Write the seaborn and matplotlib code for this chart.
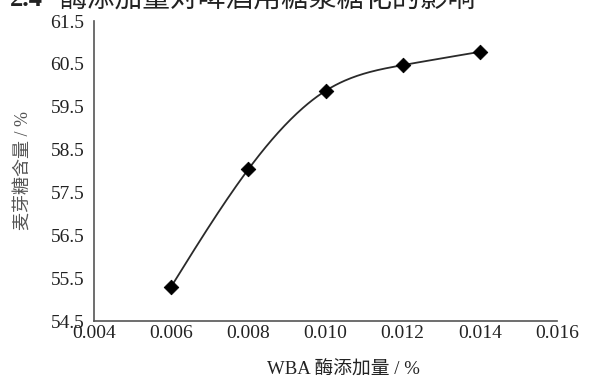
import numpy as np
import pandas as pd
import matplotlib
matplotlib.use("Agg")
import matplotlib.pyplot as plt
import seaborn as sns

# data
dose = [0.006, 0.008, 0.010, 0.012, 0.014]
maltose = [55.30, 58.04, 59.87, 60.47, 60.78]
xticks = [0.004, 0.006, 0.008, 0.010, 0.012, 0.014, 0.016]
yticks = [54.5, 55.5, 56.5, 57.5, 58.5, 59.5, 60.5, 61.5]
xlabel = "WBA 酶添加量 / %"
ylabel = "麦芽糖含量 / %"
caption_num = "2.4"
caption = "酶添加量对啤酒用糖浆糖化的影响"

sns.set_theme(style="white")
plt.rcParams['font.family'] = ['Liberation Serif', 'Noto Sans CJK SC', 'DejaVu Sans']
plt.rcParams['mathtext.fontset'] = 'stix'

df = pd.DataFrame({"dose": dose, "maltose": maltose})


def natural_spline(x, y, n=200):
    x = np.asarray(x, float); y = np.asarray(y, float)
    k = len(x); h = np.diff(x)
    A = np.zeros((k, k)); b = np.zeros(k)
    A[0, 0] = A[-1, -1] = 1
    for i in range(1, k - 1):
        A[i, i - 1] = h[i - 1]; A[i, i] = 2 * (h[i - 1] + h[i]); A[i, i + 1] = h[i]
        b[i] = 3 * ((y[i + 1] - y[i]) / h[i] - (y[i] - y[i - 1]) / h[i - 1])
    c = np.linalg.solve(A, b)
    xs = np.linspace(x[0], x[-1], n); ys = np.empty_like(xs)
    for j, xv in enumerate(xs):
        i = min(np.searchsorted(x, xv, side='right') - 1, k - 2)
        dx = xv - x[i]
        bb = (y[i + 1] - y[i]) / h[i] - h[i] * (c[i + 1] + 2 * c[i]) / 3
        d = (c[i + 1] - c[i]) / (3 * h[i])
        ys[j] = y[i] + bb * dx + c[i] * dx ** 2 + d * dx ** 3
    return xs, ys


W, H = 598, 381
AX_L, AX_R, AX_T, AX_B = 94, 557, 21, 321
fig = plt.figure(figsize=(W / 100, H / 100), dpi=100)
ax = fig.add_axes([AX_L / W, 1 - AX_B / H, (AX_R - AX_L) / W, (AX_B - AX_T) / H])

xs, ys = natural_spline(dose, maltose)
sns.lineplot(x=xs, y=ys, ax=ax, color="#2a2a2a", linewidth=1.3)
sns.scatterplot(data=df, x="dose", y="maltose", ax=ax, marker="D", s=55,
                color="black", edgecolor="black", zorder=5)

ax.set_xlim(0.004, 0.016)
ax.set_ylim(54.5, 61.5)
ax.set_xticks(xticks)
ax.set_xticklabels([f"{v:.3f}" for v in xticks])
ax.set_yticks(yticks)
ax.set_yticklabels([f"{v:.1f}" for v in yticks])

for s in ["top", "right"]:
    ax.spines[s].set_visible(False)
for s in ["left", "bottom"]:
    ax.spines[s].set_color("#555555")
    ax.spines[s].set_linewidth(1.2)

ax.tick_params(axis="both", direction="in", length=6, width=1.2, color="#555555",
               labelsize=14, labelcolor="#222222")
ax.tick_params(axis="y", pad=7)
ax.tick_params(axis="x", pad=3)

ax.set_xlabel(xlabel, fontsize=13.5, color="#222222")
ax.xaxis.set_label_coords((343 - AX_L) / (AX_R - AX_L), -(362 - AX_B) / (AX_B - AX_T))
ax.set_ylabel(ylabel, fontsize=13, color="#555555")
ax.yaxis.set_label_coords(-(AX_L - 33) / (AX_R - AX_L), 0.5)

fig.text(10 / W, 1 - 6 / H, caption_num, fontsize=19, fontweight="bold",
         color="#222222", ha="left", va="baseline")
fig.text(60 / W, 1 - 8 / H, caption, fontsize=20, color="#222222",
         ha="left", va="baseline")

fig.savefig("out.png", dpi=100)
